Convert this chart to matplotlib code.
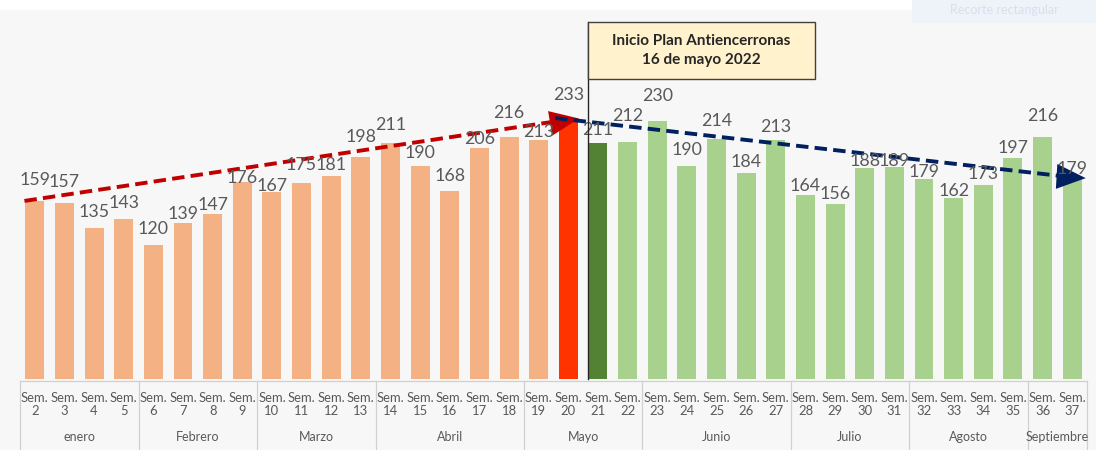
import matplotlib
matplotlib.use("Agg")
import matplotlib.pyplot as plt
from matplotlib.patches import Rectangle
import numpy as np

# weekly values, weeks 2..37
weeks = list(range(2, 38))
values = [159, 157, 135, 143, 120, 139, 147, 176, 167, 175, 181, 198, 211, 190,
          168, 206, 216, 213, 233, 211, 212, 230, 190, 214, 184, 213, 164, 156,
          188, 189, 179, 162, 173, 197, 216, 179]
months = ["enero", "Febrero", "Marzo", "Abril", "Mayo", "Junio", "Julio",
          "Agosto", "Septiembre"]
month_sizes = [4, 4, 4, 5, 4, 5, 4, 4, 2]
box_text = "Inicio Plan Antiencerronas\n16 de mayo 2022"

# hand-placed data labels in the original (pixel nudges, by week)
label_nudge = {2: 5, 3: 5, 7: -7, 8: -7, 9: -12, 10: -10, 11: 2, 12: -5, 13: 4,
               14: 2, 15: -3, 16: -1, 17: -7, 18: 8, 19: -8, 20: 7, 21: -3,
               22: 10, 23: 9, 25: 2, 26: -5, 27: -3, 28: -7, 29: -6, 30: -9,
               31: -10, 32: -9, 33: -9, 34: -5, 35: -6, 36: 5, 37: -6}

ORANGE = "#F4B183"
RED = "#FF3300"
DKGREEN = "#548235"
LTGREEN = "#A9D18E"
GRAY_TXT = "#595959"
BG = "#F7F7F7"

plt.rcParams["font.family"] = ["Lato", "DejaVu Sans"]

W, H = 1096, 450
fig = plt.figure(figsize=(W / 100, H / 100), dpi=100)
fig.patch.set_facecolor(BG)

# axes placed in pixel terms: x from 20 to 1087, baseline at y=379, top at y=12
ax_l, ax_r, ax_b, ax_t = 20, 1087, 379, 12
ax = fig.add_axes([ax_l / W, (H - ax_b) / H, (ax_r - ax_l) / W, (ax_b - ax_t) / H])
ax.set_facecolor(BG)
px_per_unit = 1.12
ax.set_xlim(-0.5, len(weeks) - 0.5)
ax.set_ylim(0, (ax_b - ax_t) / px_per_unit)
ax.axis("off")

x = np.arange(len(weeks))
start_idx = weeks.index(20)
colors = [ORANGE if w < 20 else RED if w == 20 else DKGREEN if w == 21 else LTGREEN
          for w in weeks]
ax.bar(x, values, width=0.64, color=colors, zorder=2)

for xi, w, v in zip(x, weeks, values):
    ax.annotate(str(v), (xi, v), xytext=(0, 16 + label_nudge.get(w, 0)),
                textcoords="offset pixels", ha="center", va="center",
                fontsize=12.8, color=GRAY_TXT, zorder=4)

# trend arrows
head = "-|>,head_length=0.75,head_width=0.32"
first_x, last_x = -0.35, len(weeks) - 0.5
peak = values[start_idx]
ax.plot([first_x, start_idx - 0.3], [values[0], peak - 2.5], color="#C00000", lw=2.8,
        ls=(0, (3.2, 1.6)), zorder=3, clip_on=False)
ax.annotate("", xy=(start_idx + 0.45, peak), xytext=(start_idx - 0.4, peak - 3.8),
            arrowprops=dict(arrowstyle=head, color="#C00000", lw=0,
                            mutation_scale=28), zorder=3, annotation_clip=False)
ax.plot([start_idx - 0.45, last_x - 0.6], [peak, values[-1] + 1.4], color="#002060",
        lw=2.8, ls=(0, (3.2, 1.6)), zorder=3, clip_on=False)
ax.annotate("", xy=(last_x + 0.05, values[-1] + 0.2), xytext=(last_x - 0.8, values[-1] + 1.5),
            arrowprops=dict(arrowstyle=head, color="#002060", lw=0,
                            mutation_scale=28), zorder=3, annotation_clip=False)

# category axis (two-level)
def px_x(xd):
    return ax_l + (xd + 0.5) / len(weeks) * (ax_r - ax_l)

fig.add_artist(plt.Line2D([ax_l / W, ax_r / W], [(H - 381) / H] * 2,
                          color="#D0D0D0", lw=0.9))
for xi, w in zip(x, weeks):
    fx = px_x(xi) / W
    fig.text(fx, (H - 398) / H, "Sem.", ha="center", va="center", fontsize=9.4,
             color=GRAY_TXT)
    fig.text(fx, (H - 411) / H, str(w), ha="center", va="center", fontsize=9.4,
             color=GRAY_TXT)

bounds = np.concatenate([[0], np.cumsum(month_sizes)])
for b in bounds:
    fx = px_x(b - 0.5) / W
    fig.add_artist(plt.Line2D([fx, fx], [0, (H - 381) / H], color="#D0D0D0", lw=0.9))
for m, a, b in zip(months, bounds[:-1], bounds[1:]):
    fx = px_x((a + b - 1) / 2) / W
    fig.text(fx, (H - 437) / H, m, ha="center", va="center", fontsize=9,
             color=GRAY_TXT)

# annotation box + marker line
line_x = px_x(start_idx + 0.68)
fig.add_artist(plt.Line2D([line_x / W] * 2, [(H - 379) / H, (H - 22) / H],
                          color="#262626", lw=1.0, zorder=5))
bx0, bx1, by0, by1 = 588, 815, 22, 79
fig.add_artist(Rectangle((bx0 / W, (H - by1) / H), (bx1 - bx0) / W, (by1 - by0) / H,
                         facecolor="#FFF2CC", edgecolor="#404040", lw=1.0, zorder=6))
fig.text((bx0 + bx1) / 2 / W, (H - (by0 + by1) / 2) / H, box_text, ha="center",
         va="center", fontsize=11, fontweight="bold", color="#262626",
         linespacing=1.45, zorder=7)

# white strip at the top of the screenshot
fig.add_artist(Rectangle((0, (H - 10) / H), 1, 10 / H, facecolor="white",
                         edgecolor="none", zorder=1))
fig.add_artist(Rectangle((912 / W, (H - 23) / H), (W - 912) / W, 23 / H,
                         facecolor="#EEF3FA", edgecolor="none", zorder=1))
fig.text(950 / W, (H - 10) / H, "Recorte rectangular", fontsize=9, color="#D6E0EE",
         va="center", zorder=2)

fig.savefig("out.png", dpi=100, facecolor=fig.get_facecolor())
